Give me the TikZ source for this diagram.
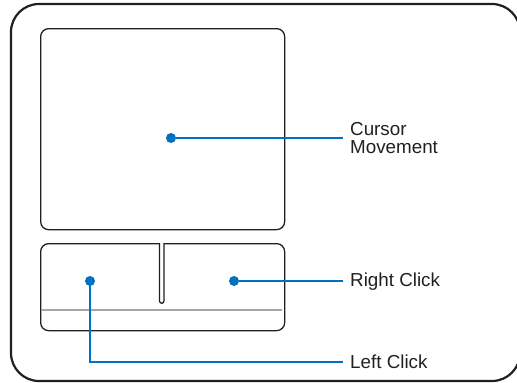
\documentclass[tikz,border=0pt]{standalone}
\usepackage{fontspec}
\setmainfont{Liberation Sans}
\definecolor{leadblue}{RGB}{0,112,192}
\definecolor{inkgray}{RGB}{35,31,32}

\begin{document}
\begin{tikzpicture}[x=1pt, y=-1pt,
    frame/.style={draw=inkgray, line width=2.2pt, rounded corners=28pt},
    part/.style={draw=inkgray, line width=1.3pt, rounded corners=8pt,
        fill=white, inner sep=0pt, anchor=north west},
    dot/.style={circle, fill=leadblue, minimum size=10pt, inner sep=0pt},
    callout/.style={anchor=west, inner xsep=7pt, inner ysep=0pt,
        font=\fontsize{18.8pt}{18.3pt}\selectfont, text=inkgray, align=left},
    edge/.style={draw=leadblue, line width=1.7pt}
]
    \useasboundingbox (0,0) rectangle (517,383);
    \begin{scope}
    \clip (0,0) rectangle (517,383);
    \draw[frame] (11,4) rectangle (520,381);
    \end{scope}
    \node[part, minimum width=244pt, minimum height=201pt] (pad) at (40,28) {};
    \node[part, minimum width=244pt, minimum height=87pt] (buttons) at (40,243) {};
    % slit between the two buttons
    \fill[white] (160,241) rectangle (163.5,245);
    \draw[inkgray, line width=1.3pt] (159.5,243) -- (159.5,301)
        arc[start angle=180, end angle=0, x radius=2.25pt, y radius=-2.25pt]
        -- (164,243);
    \draw[gray!70, line width=1.2pt] (41,310) -- (282,310);
    \node[dot] (move) at (171,138) {};
    \node[dot] (right) at (234,281) {};
    \node[dot] (left) at (90,281) {};
    \node[callout] (lmove) at (343,138) {Cursor\\Movement};
    \node[callout] (lright) at (343,282) {Right Click};
    \node[callout] (lleft) at (343,362) {Left Click};
    \draw[edge] (move) -- (lmove.west);
    \draw[edge] (right) -- (lright.west |- right);
    \draw[edge] (left) |- (lleft.west);
\end{tikzpicture}
\end{document}
